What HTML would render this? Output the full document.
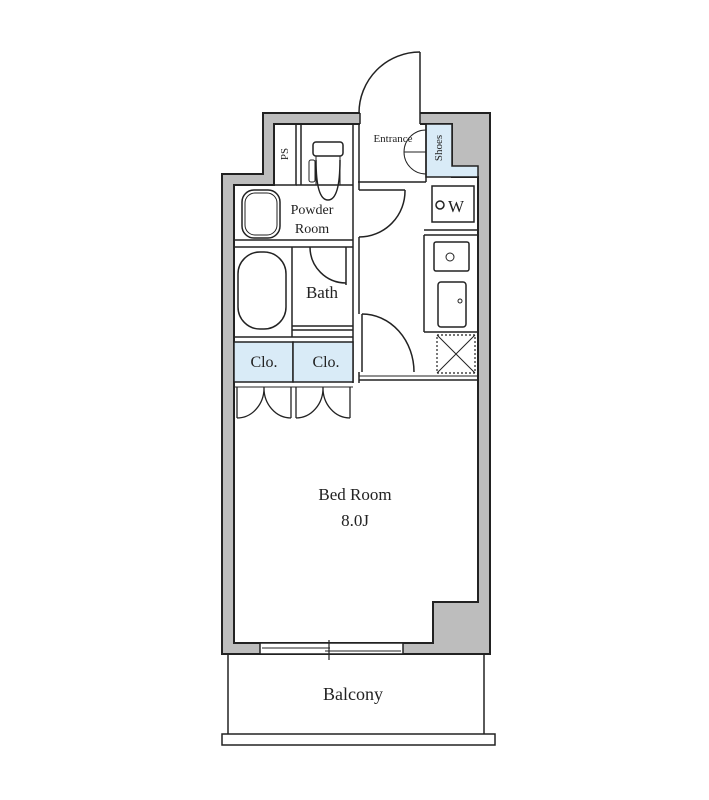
<!DOCTYPE html>
<html><head><style>html,body{margin:0;padding:0;background:#fff;}svg{display:block}</style></head>
<body>
<svg width="709" height="800" viewBox="0 0 709 800" xmlns="http://www.w3.org/2000/svg" font-family="'Liberation Serif', serif" fill="none" stroke="#222" stroke-width="1.5">
<!-- walls -->
<path d="M263,113 H490 V654 H222 V174 H263 Z M274,124 V185 H234 V643 H433 V602 H478 V177 H452 V124 Z" fill="#bdbdbd" fill-rule="evenodd" stroke="#222" stroke-width="2"/>
<!-- shoes -->
<path d="M426,124 H452 V166 H478 V177 H426 Z" fill="#d9ebf7"/>
<text x="442" y="148" font-size="11" fill="#222" stroke="none" transform="rotate(-90 442 148)" text-anchor="middle">Shoes</text>
<!-- entrance door opening -->
<rect x="360" y="112" width="60" height="13" fill="#fff" stroke="none"/>
<line x1="360" y1="113" x2="360" y2="124"/>
<line x1="420" y1="113" x2="420" y2="124"/>
<line x1="420" y1="52" x2="420" y2="113"/>
<path d="M420,52 A61,61 0 0 0 359,113"/>
<text x="393" y="142" font-size="11" fill="#222" stroke="none" text-anchor="middle">Entrance</text>
<path d="M426,130 A22,22 0 0 0 404,152" stroke-width="1"/>
<path d="M426,174 A22,22 0 0 1 404,152" stroke-width="1"/>
<line x1="404" y1="152" x2="426" y2="152" stroke-width="1"/>
<line x1="358" y1="182" x2="426" y2="182"/>
<line x1="426" y1="124" x2="426" y2="182"/>
<!-- central partition -->
<line x1="353" y1="124" x2="353" y2="383"/>
<line x1="359" y1="124" x2="359" y2="190"/>
<line x1="359" y1="237" x2="359" y2="314"/>
<line x1="359" y1="372" x2="359" y2="383"/>
<!-- PS and toilet -->
<rect x="274" y="124" width="22" height="61"/>
<text x="288" y="154" font-size="11" fill="#222" stroke="none" transform="rotate(-90 288 154)" text-anchor="middle">PS</text>
<line x1="301" y1="124" x2="301" y2="185"/>
<line x1="296" y1="185" x2="353" y2="185"/>
<rect x="313" y="142" width="30" height="14" rx="3"/>
<path d="M316,156 V185 M340,156 V185" stroke-width="1"/>
<path d="M316,160 Q316,200 328,200 Q340,200 340,160" />
<rect x="309" y="160" width="6" height="22" rx="2" stroke-width="1"/>
<!-- powder room -->
<line x1="234" y1="240" x2="353" y2="240"/>
<line x1="234" y1="247" x2="353" y2="247"/>
<rect x="242" y="190" width="38" height="48" rx="12"/>
<rect x="245" y="193" width="32" height="42" rx="10" stroke-width="1"/>
<text x="312" y="214" font-size="14" fill="#222" stroke="none" text-anchor="middle">Powder</text>
<text x="312" y="233" font-size="14" fill="#222" stroke="none" text-anchor="middle">Room</text>
<!-- bath -->
<line x1="292" y1="247" x2="292" y2="337"/>
<rect x="238" y="252" width="48" height="77" rx="22"/>
<line x1="292" y1="326" x2="353" y2="326"/>
<line x1="292" y1="330" x2="353" y2="330"/>
<line x1="234" y1="337" x2="353" y2="337"/>
<line x1="346" y1="247" x2="346" y2="285"/>
<path d="M310,247 A36,36 0 0 0 346,283"/>
<text x="322" y="298" font-size="17" fill="#222" stroke="none" text-anchor="middle">Bath</text>
<!-- closets -->
<rect x="234" y="342" width="59" height="40" fill="#d9ebf7"/>
<rect x="293" y="342" width="60" height="40" fill="#d9ebf7"/>
<text x="264" y="367" font-size="16" fill="#222" stroke="none" text-anchor="middle">Clo.</text>
<text x="326" y="367" font-size="16" fill="#222" stroke="none" text-anchor="middle">Clo.</text>
<line x1="234" y1="387" x2="353" y2="387" stroke-width="1"/>
<path d="M237,387 V418 M264,387 A27,30 0 0 1 237,418 M264,387 A27,30 0 0 0 291,418 M291,387 V418" stroke-width="1.3"/>
<path d="M296,387 V418 M323,387 A27,30 0 0 1 296,418 M323,387 A27,30 0 0 0 350,418 M350,387 V418" stroke-width="1.3"/>
<!-- corridor doors -->
<line x1="359" y1="190" x2="405" y2="190"/>
<path d="M405,190 A46,46 0 0 1 359,237"/>
<line x1="362" y1="314" x2="362" y2="372"/>
<path d="M362,314 A52,58 0 0 1 414,372"/>
<line x1="359" y1="380" x2="478" y2="380"/>
<line x1="359" y1="376" x2="478" y2="376" stroke-width="1"/>
<!-- kitchen -->
<rect x="432" y="186" width="42" height="36"/>
<circle cx="440" cy="205" r="4"/>
<text x="456" y="212" font-size="17" fill="#222" stroke="none" text-anchor="middle">W</text>
<line x1="424" y1="230" x2="478" y2="230"/>
<line x1="424" y1="235" x2="478" y2="235"/>
<line x1="424" y1="235" x2="424" y2="332"/>
<line x1="424" y1="332" x2="478" y2="332"/>
<rect x="434" y="242" width="35" height="29" rx="2"/>
<circle cx="450" cy="257" r="4" stroke-width="1"/>
<rect x="438" y="282" width="28" height="45" rx="3"/>
<circle cx="460" cy="301" r="2" stroke-width="1"/>
<rect x="437" y="335" width="38" height="38" stroke-dasharray="2,2" stroke-width="1.2"/>
<path d="M437,335 L475,373 M475,335 L437,373" stroke-width="1"/>
<!-- bed room -->
<text x="355" y="500" font-size="17" fill="#222" stroke="none" text-anchor="middle">Bed Room</text>
<text x="355" y="526" font-size="17" fill="#222" stroke="none" text-anchor="middle">8.0J</text>
<!-- window -->
<rect x="260" y="643" width="143" height="11" fill="#fff"/>
<line x1="262" y1="648" x2="330" y2="648" stroke-width="1"/>
<line x1="325" y1="651" x2="401" y2="651" stroke-width="1"/>
<line x1="329" y1="640" x2="329" y2="660" stroke-width="1.2"/>
<!-- balcony -->
<line x1="228" y1="654" x2="228" y2="734"/>
<line x1="484" y1="654" x2="484" y2="734"/>
<rect x="222" y="734" width="273" height="11"/>
<text x="353" y="700" font-size="18" fill="#222" stroke="none" text-anchor="middle">Balcony</text>
</svg>
</body></html>
